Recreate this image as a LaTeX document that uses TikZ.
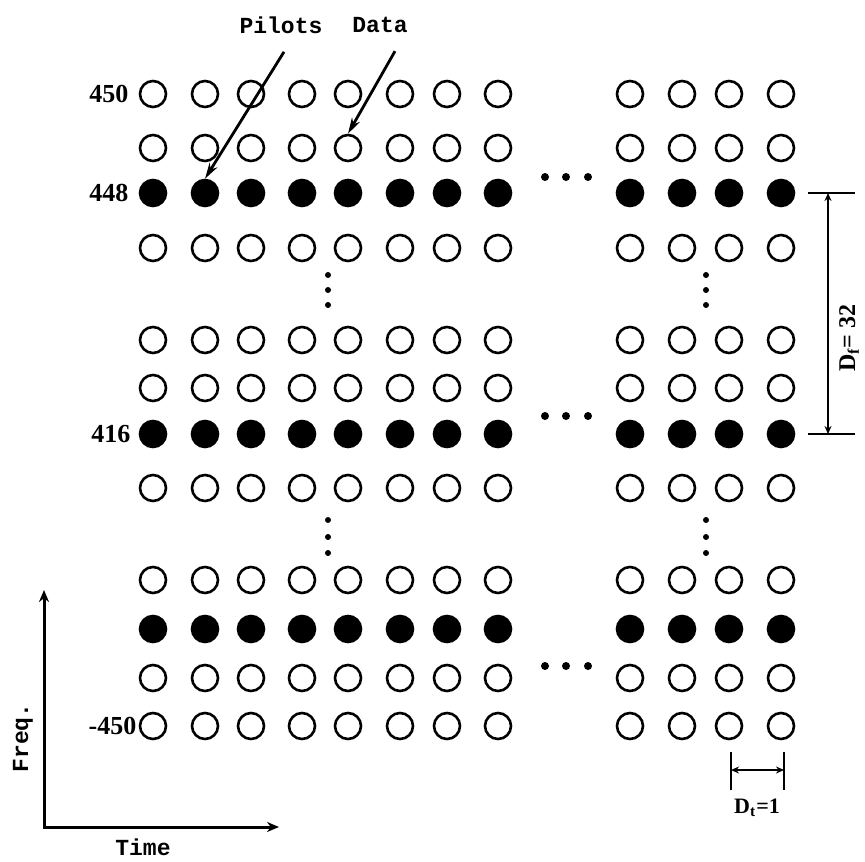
\documentclass[tikz,border=0pt]{standalone}
\usepackage{fontspec}
\setmainfont{Liberation Serif}
\setmonofont{Liberation Mono}
\usetikzlibrary{positioning, arrows.meta, calc}

\tikzset{
  data/.style={circle, draw, line width=1.3pt, minimum size=13pt, inner sep=0pt},
  pilot/.style={data, fill=black},
  idx/.style={font=\bfseries\fontsize{13}{13}\selectfont, inner sep=1pt},
  lbl/.style={font=\ttfamily\bfseries\fontsize{11.5}{12}\selectfont, inner sep=1pt},
  pointer/.style={-{Stealth[length=8pt, width=4.5pt]}, line width=1.4pt},
  axis/.style={{Stealth[length=6pt, width=5pt]}-{Stealth[length=6pt, width=5pt]}, line width=1.5pt},
  dim/.style={{Stealth[length=4pt, width=3.5pt]}-{Stealth[length=4pt, width=3.5pt]}, line width=1.2pt},
}

\begin{document}
\begin{tikzpicture}[x=0.5pt, y=-0.5pt]
    \useasboundingbox (0,0) rectangle (865,861);

    % Grid of subcarriers (rows) over symbols (columns)
    \foreach \y/\kind [count=\r] in {94/data, 148/data, 193/pilot, 248/data,
                                     340/data, 388/data, 434/pilot, 488/data,
                                     580/data, 629/pilot, 678/data, 726/data} {
        \foreach \x [count=\c] in {153,205,251,302,348,400,447,498,630,682,729,781} {
            \node[\kind] (c-\r-\c) at (\x,\y) {};
        }
    }

    % Subcarrier indices
    \node[idx, left=4pt of c-1-1] (k450) {450};
    \node[idx, left=4pt of c-3-1] (k448) {448};
    \node[idx, left=3pt of c-7-1] (k416) {416};
    \node[idx, left=0pt of c-12-1] (km450) {-450};

    % Ellipses between the two groups of symbols
    \foreach \y in {177,416,666} {
        \foreach \x in {545,566,588} {
            \fill (\x,\y) circle (2pt);
        }
    }
    % Ellipses between rows
    \foreach \x in {328,706} {
        \foreach \y in {275,290,305,520,537,553} {
            \fill (\x,\y) circle (1.5pt);
        }
    }

    % Pointers to a pilot and a data symbol
    \node[lbl] (pilots) at (281,25) {Pilots};
    \node[lbl] (datalbl) at (380,25) {Data};
    \coordinate (pilots-tail) at ($(pilots.south)+(3,16)$);
    \coordinate (data-tail) at ($(datalbl.south)+(15,16)$);
    \draw[pointer] (pilots-tail) -- (c-3-2.north);
    \draw[pointer] (data-tail) -- (c-2-5.north);

    % Pilot spacing in frequency
    \coordinate (df-a) at (828,193);
    \coordinate (df-b) at (828,434);
    \draw[dim] (df-a) -- (df-b);
    \draw[line width=1.2pt] ($(df-a)+(-20,0)$) -- ($(df-a)+(27,0)$);
    \draw[line width=1.2pt] ($(df-b)+(-20,0)$) -- ($(df-b)+(27,0)$);
    \node[rotate=90, font=\bfseries\fontsize{12}{12}\selectfont] (dflbl) at (849,338) {D\textsubscript{f}= 32};

    % Pilot spacing in time
    \coordinate (dt-a) at (731,770);
    \coordinate (dt-b) at (784,770);
    \draw[dim] (dt-a) -- (dt-b);
    \draw[line width=1.2pt] ($(dt-a)+(0,-18)$) -- ($(dt-a)+(0,20)$);
    \draw[line width=1.2pt] ($(dt-b)+(0,-18)$) -- ($(dt-b)+(0,20)$);
    \node[font=\bfseries\fontsize{11}{11}\selectfont] (dtlbl) at (757,808) {D\textsubscript{t}=1};

    % Axes
    \coordinate (origin) at (44,827);
    \coordinate (freq-tip) at (44,590);
    \coordinate (time-tip) at (279,827);
    \draw[axis] (freq-tip) -- (origin) -- (time-tip);
    \node[lbl, rotate=90] (freq) at (23,738) {Freq.};
    \node[lbl] (time) at (143,847) {Time};
\end{tikzpicture}
\end{document}
